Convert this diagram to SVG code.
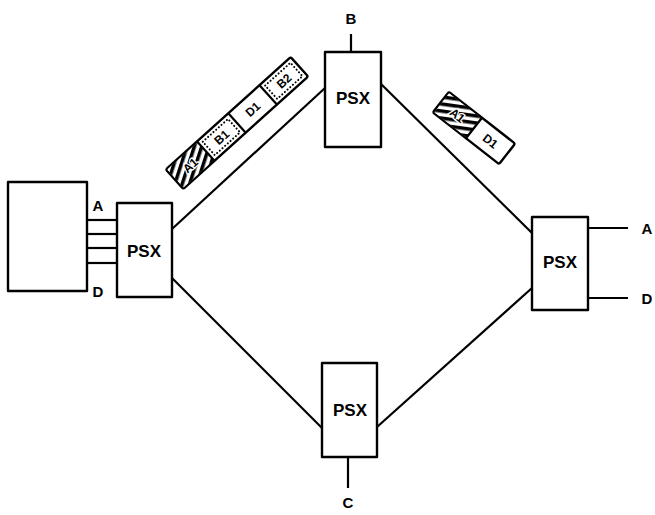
<svg xmlns="http://www.w3.org/2000/svg" width="655" height="515" viewBox="0 0 655 515">
<style>
.b{fill:#fff;stroke:#000;stroke-width:2.4;stroke-linejoin:round}
.l{fill:none;stroke:#000;stroke-width:2.2}
.t{font-family:"Liberation Sans",Arial,sans-serif;font-weight:bold;font-size:17px;text-anchor:middle;fill:#000}
.s{font-family:"Liberation Sans",Arial,sans-serif;font-weight:bold;font-size:15px;text-anchor:middle;fill:#000}
.p{font-family:"Liberation Sans",Arial,sans-serif;font-weight:bold;font-size:12px;text-anchor:middle;fill:#000;paint-order:stroke;stroke:#fff;stroke-width:2.5}
.d{fill:none;stroke:#000;stroke-width:2;stroke-dasharray:0.1 3.5;stroke-linecap:round}
</style>
<defs>
<pattern id="h" patternUnits="userSpaceOnUse" width="7" height="7" patternTransform="rotate(60)">
<rect width="7" height="7" fill="#fff"/>
<rect width="3.5" height="7" fill="#000"/>
</pattern>
</defs>
<g id="connectors">
<line class="l" x1="172" y1="229" x2="325" y2="88"/>
<line class="l" x1="381" y1="84" x2="532" y2="233"/>
<line class="l" x1="172" y1="278" x2="322" y2="428"/>
<line class="l" x1="377" y1="427" x2="532" y2="288"/>
<line class="l" x1="87" y1="220" x2="117" y2="220"/>
<line class="l" x1="87" y1="234" x2="117" y2="234"/>
<line class="l" x1="87" y1="248" x2="117" y2="248"/>
<line class="l" x1="87" y1="263" x2="117" y2="263"/>
<line class="l" x1="351" y1="34" x2="351" y2="52"/>
<line class="l" x1="348" y1="457" x2="348" y2="488"/>
<line class="l" x1="588" y1="228" x2="628" y2="228"/>
<line class="l" x1="588" y1="298" x2="628" y2="298"/>
</g>
<g id="host">
<rect class="b" x="8" y="182" width="79" height="109"/>
<text class="s" x="98" y="211">A</text>
<text class="s" x="98" y="297">D</text>
</g>
<g id="psx-left">
<rect class="b" x="117" y="203" width="55" height="94"/>
<text class="t" x="144" y="257">PSX</text>
</g>
<g id="psx-b">
<rect class="b" x="325" y="52" width="56" height="95"/>
<text class="t" x="353" y="104">PSX</text>
<text class="s" x="351" y="24">B</text>
</g>
<g id="psx-right">
<rect class="b" x="532" y="217" width="56" height="93"/>
<text class="t" x="560" y="268">PSX</text>
<text class="s" x="647" y="234">A</text>
<text class="s" x="647" y="304">D</text>
</g>
<g id="psx-c">
<rect class="b" x="322" y="363" width="55" height="94"/>
<text class="t" x="350" y="416">PSX</text>
<text class="s" x="348" y="508">C</text>
</g>
<g id="packets-left" transform="translate(237,123) rotate(-42)">
<rect class="b" x="-84" y="-13" width="168" height="26" rx="2"/>
<rect x="-83" y="-12" width="41" height="24" fill="url(#h)"/>
<line class="l" x1="-42" y1="-13" x2="-42" y2="13"/>
<line class="l" x1="0" y1="-13" x2="0" y2="13"/>
<line class="l" x1="42" y1="-13" x2="42" y2="13"/>
<rect class="d" x="-38" y="-9" width="34" height="18"/>
<rect class="d" x="46" y="-9" width="34" height="18"/>
<text class="p" x="-63" y="4.5">A1</text>
<text class="p" x="-21" y="4.5">B1</text>
<text class="p" x="21" y="4.5">D1</text>
<text class="p" x="63" y="4.5">B2</text>
</g>
<g id="packets-right" transform="translate(474,128) rotate(38)">
<rect class="b" x="-42" y="-13" width="84" height="26" rx="2"/>
<rect x="-41" y="-12" width="41" height="24" fill="url(#h)"/>
<line class="l" x1="0" y1="-13" x2="0" y2="13"/>
<text class="p" x="-21" y="4.5">A1</text>
<text class="p" x="21" y="4.5">D1</text>
</g>
</svg>
